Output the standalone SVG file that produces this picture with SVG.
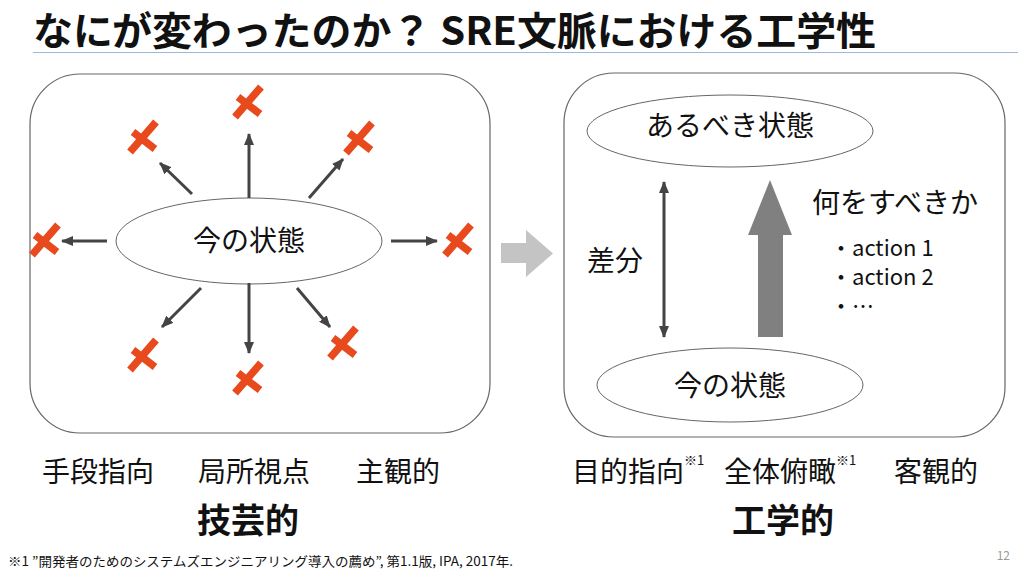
<svg xmlns="http://www.w3.org/2000/svg" width="1024" height="576" viewBox="0 0 1024 576">
<style>
.t{font-family:"Noto Sans CJK JP","Noto Sans",sans-serif;fill:#111}
.n{font-size:28px;text-anchor:middle}
.lbl{font-size:28px}
.bold{font-size:34px;font-weight:bold}
.sup{font-size:13px}
.box{fill:#fff;stroke:#666;stroke-width:1.2}
.ell{fill:#fff;stroke:#666;stroke-width:1}
.con{stroke:#444;stroke-width:3;fill:none}
.x{stroke:#e8491d;stroke-width:7.5;fill:none;stroke-linecap:butt}
</style>
<defs>
<marker id="ah" viewBox="0 0 12 10" refX="11" refY="5" markerWidth="12" markerHeight="10" markerUnits="userSpaceOnUse" orient="auto-start-reverse">
<path d="M0,0 L12,5 L0,10 Z" fill="#444"/>
</marker>
<g id="xm"><path class="x" d="M-13,15 L13,-15 M-10,-5 L12,12"/></g>
</defs>
<rect width="1024" height="576" fill="#fff"/>
<text class="t" x="33" y="45" font-size="39" font-weight="bold" textLength="843" lengthAdjust="spacingAndGlyphs">なにが変わったのか？ SRE文脈における工学性</text>
<line x1="33" y1="52.5" x2="1018" y2="52.5" stroke="#9db8d9" stroke-width="1.2"/>

<g id="left-box"><rect class="box" x="30" y="74" width="460" height="359" rx="50"/></g>
<g id="right-box"><rect class="box" x="564" y="73" width="441" height="364" rx="50"/></g>
<g id="left-now"><ellipse class="ell" cx="249" cy="241" rx="133" ry="43"/><text class="t n" x="249" y="251">今の状態</text></g>
<g id="x-marks">
<use href="#xm" x="248" y="102"/>
<use href="#xm" x="143" y="137"/>
<use href="#xm" x="359" y="138"/>
<use href="#xm" x="45" y="240"/>
<use href="#xm" x="458" y="240"/>
<use href="#xm" x="143" y="355"/>
<use href="#xm" x="248" y="378"/>
<use href="#xm" x="343" y="343"/>
</g>
<g id="mid-arrow"><path d="M501,243 L526,243 L526,230 L553,253.5 L526,277 L526,263 L501,263 Z" fill="#c4c4c4"/></g>
<g id="goal"><ellipse class="ell" cx="730" cy="131" rx="143" ry="36"/><text class="t n" x="730" y="136">あるべき状態</text></g>
<g id="right-now"><ellipse class="ell" cx="730" cy="385" rx="133" ry="37"/><text class="t n" x="730" y="396">今の状態</text></g>
<g id="connectors">
<line class="con" x1="249" y1="198" x2="249" y2="134" marker-end="url(#ah)"/>
<line class="con" x1="192" y1="194" x2="160" y2="163" marker-end="url(#ah)"/>
<line class="con" x1="309" y1="198" x2="343" y2="159" marker-end="url(#ah)"/>
<line class="con" x1="107" y1="241" x2="62" y2="241" marker-end="url(#ah)"/>
<line class="con" x1="391" y1="241" x2="437" y2="241" marker-end="url(#ah)"/>
<line class="con" x1="201" y1="288" x2="162" y2="327" marker-end="url(#ah)"/>
<line class="con" x1="249" y1="283" x2="249" y2="353" marker-end="url(#ah)"/>
<line class="con" x1="297" y1="288" x2="330" y2="327" marker-end="url(#ah)"/>
<line class="con" x1="664" y1="182" x2="664" y2="337" marker-start="url(#ah)" marker-end="url(#ah)"/>
</g>
<g id="diff"><text class="t lbl" x="587" y="271">差分</text></g>
<g id="big-arrow"><path d="M758,337 L758,235 L748,235 L770,180 L792,235 L783,235 L783,337 Z" fill="#808080"/></g>
<g id="what"><text class="t lbl" x="812" y="213">何をすべきか</text>
<text class="t" font-size="22" x="830" y="256">・action 1</text>
<text class="t" font-size="22" x="830" y="285">・action 2</text>
<text class="t" font-size="22" x="830" y="314">・…</text></g>

<g id="labels">
<text class="t lbl" x="42" y="482">手段指向</text>
<text class="t lbl" x="198" y="482">局所視点</text>
<text class="t lbl" x="356" y="482">主観的</text>
<text class="t bold" x="197" y="533">技芸的</text>
<text class="t lbl" x="572" y="482">目的指向<tspan class="sup" dy="-17">※1</tspan></text>
<text class="t lbl" x="724" y="482">全体俯瞰<tspan class="sup" dy="-17">※1</tspan></text>
<text class="t lbl" x="894" y="482">客観的</text>
<text class="t bold" x="732" y="533">工学的</text>
</g>
<text class="t" font-size="13" x="8" y="566" textLength="505" lengthAdjust="spacingAndGlyphs">※1 ”開発者のためのシステムズエンジニアリング導入の薦め”, 第1.1版, IPA, 2017年.</text>
<text class="t" font-size="12" x="1010" y="560" text-anchor="end" style="fill:#999">12</text>
</svg>
